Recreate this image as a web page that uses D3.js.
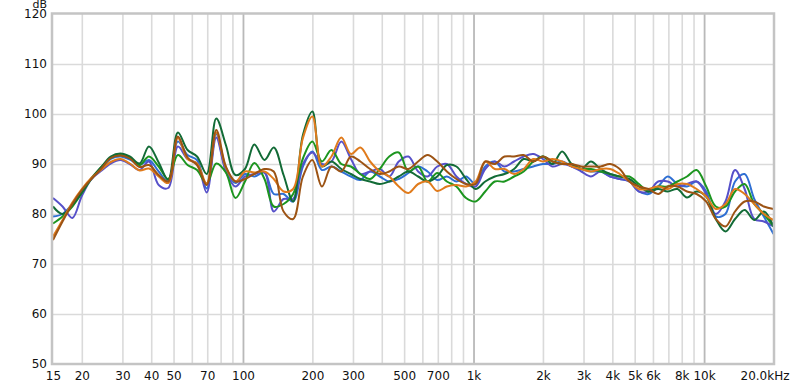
<!DOCTYPE html>
<html>
<head>
<meta charset="utf-8">
<script src="https://cdn.jsdelivr.net/npm/d3@7"></script>
<style>
  body { margin: 0; background: #fff; }
  svg text { font-family: "DejaVu Sans", Verdana, sans-serif; font-size: 12px; fill: #111; }
</style>
</head>
<body>
<svg id="chart" width="800" height="385"></svg>
<script>
// sample frequencies (Hz), shared by every trace
var freqs = [15, 16.5, 18.2, 20, 22, 24.2, 26.7, 29.4, 32.3, 35.6, 39.1, 43.1, 47.4, 52.2, 57.5, 63.2,
  69.6, 76.6, 84.3, 92.8, 102, 112, 124, 136, 150, 165, 182, 200, 220, 242, 267, 294, 323, 356, 392,
  431, 474, 522, 575, 632, 696, 766, 843, 928, 1021, 1124, 1237, 1362, 1499, 1650, 1816, 1999, 2200,
  2422, 2666, 2934, 3230, 3555, 3913, 4307, 4741, 5218, 5744, 6322, 6959, 7659, 8431, 9280, 10214,
  11242, 12375, 13621, 14992, 16502, 18163, 20000];

// levels in dB
var blueTrace = [79.5, 80, 82, 84.5, 87, 89, 91, 91.5, 90.9, 89.8, 90.8, 88.5, 86.5, 94.5, 91.8, 90.8,
  85.1, 96, 88.8, 86.2, 88, 87.5, 88.3, 84, 84, 82.5, 89.5, 92.5, 88.8, 89.5, 88.5, 87.5, 86.8, 88.5,
  87.5, 86.5, 87, 88.2, 89.5, 88.5, 86.8, 87.5, 86.5, 87.5, 86, 89.5, 90.5, 88.5, 88.5, 89, 89.5, 90,
  90, 90.5, 89.5, 89, 88.5, 88.5, 87.5, 87, 86.5, 84.5, 84, 85.5, 87.5, 86, 85.5, 86.5, 84.5, 79.5,
  80, 86.5, 88, 83, 79.5, 76];
var purpleTrace = [83.2, 81.5, 79.2, 83.6, 87, 88.6, 90.1, 90.8, 90, 88.8, 90.5, 85.8, 85.2, 93.5, 91,
  90.1, 84.3, 95.3, 88.5, 85.5, 87.5, 88, 88.3, 80.5, 83, 83, 90, 92.3, 90, 90.5, 94.5, 91, 88, 88.5,
  89, 87.5, 90.5, 91.5, 88.5, 87.5, 89.5, 90, 87.5, 86, 85.5, 89, 90.5, 89.5, 90.5, 91.5, 92, 91, 89.5,
  90, 89.5, 88.5, 87.5, 88.5, 87.5, 87, 86.5, 84.5, 84.5, 86.5, 86.5, 85.5, 86, 86.5, 84, 80, 82.5,
  88.8, 85, 79, 78.5, 77.5];
var darkGreenTrace = [81.5, 80, 81.8, 84.3, 87.2, 89.3, 91.5, 92.1, 91.5, 90.1, 93.5, 90.3, 86.8, 96.3,
  92.8, 91.5, 88, 99.1, 93.8, 87.8, 89, 93.9, 90.8, 93.3, 87.8, 82.5, 95.8, 100.5, 89.5, 90.5, 89, 88,
  87, 86.5, 86, 86.5, 87.5, 88.5, 87.5, 86.5, 87.5, 89.8, 89.5, 87, 85, 86.5, 87.5, 88, 89, 91, 90.5,
  91.5, 90, 92.5, 90, 89, 90.5, 89, 88, 87.5, 87, 85.5, 84.5, 85, 84.5, 85, 83.3, 84.5, 83.5, 79, 76.5,
  79, 80.8, 78.8, 80.5, 77.5];
var greenTrace = [78.1, 79.5, 81.5, 84.2, 87, 89.3, 91.2, 91.8, 91.2, 89.8, 91.5, 89.5, 87, 91.8, 89.8,
  88.8, 86.1, 90.1, 88.3, 83.2, 86.5, 90.2, 87, 81.5, 82, 84, 91.1, 94.5, 90.5, 92.8, 90, 89.5, 88, 87,
  89, 91.5, 92.3, 88.5, 89.5, 86.5, 88.2, 86.5, 85.5, 83.2, 82.5, 84.5, 86.5, 86.5, 87.5, 88.5, 90.5,
  91.5, 90.5, 90, 90, 89, 89, 88.5, 88, 87.5, 87.5, 86, 84.5, 85.5, 85.5, 86.5, 87.5, 88.8, 85.5, 81.5,
  81.5, 84.5, 86, 82, 80, 77.5];
var orangeTrace = [75.5, 78.8, 82.3, 85, 87.2, 88.8, 90.4, 91, 90.1, 88.7, 89.1, 87.5, 86.2, 95.2, 91,
  90.1, 86.1, 96.3, 89.3, 86.5, 88.5, 88.3, 88.5, 87, 84.5, 85, 95.2, 99.5, 89.5, 91.5, 95.3, 92, 93.3,
  90.5, 88.5, 87.5, 85.5, 84.2, 86, 86.5, 84.6, 85.5, 85.8, 85.5, 86.5, 90.5, 89, 89, 88, 89, 91, 90.5,
  91, 90.5, 89.5, 89, 88.5, 89, 89, 88, 86.5, 85, 85, 85.5, 85, 86, 86, 85, 83.5, 81, 82, 85, 84, 82,
  80, 78.8];
var brownTrace = [74.8, 78.5, 82, 84.8, 87, 89, 91.2, 91.7, 91.1, 89.4, 89.8, 87.8, 86.5, 95.5, 91.3,
  89.8, 85.8, 96.8, 89.5, 86.5, 87, 88, 89, 88.5, 80.5, 79, 87.5, 90.8, 85.5, 89.5, 88.5, 91.5, 90.5, 89,
  88, 88.5, 89.5, 89, 90.5, 91.8, 90.5, 88.5, 87, 86, 86, 90.5, 90, 91.5, 91.5, 91.8, 90.5, 91.5, 90.5,
  90, 90, 89.5, 89.5, 89.5, 90, 89, 86.5, 85.5, 85, 84, 85.5, 85.5, 84.5, 84, 82.5, 79, 77.5, 80.5,
  82.5, 82.5, 81.5, 81];

var traces = [blueTrace, purpleTrace, greenTrace, darkGreenTrace, orangeTrace, brownTrace];
var traceColors = ["#2e6fd3", "#5650c9", "#1c951f", "#126b36", "#e07b1c", "#9c5314"];

var gridFreqs = [20, 30, 40, 50, 60, 70, 80, 90, 200, 300, 400, 500, 600, 700, 800, 900,
  2000, 3000, 4000, 5000, 6000, 7000, 8000, 9000];
var decadeFreqs = [100, 1000, 10000];
var freqTicks = [15, 20, 30, 40, 50, 70, 100, 200, 300, 500, 700, 1000, 2000, 3000, 4000, 5000, 6000, 8000, 10000, 20000];
var freqLabels = ["15", "20", "30", "40", "50", "70", "100", "200", "300", "500", "700", "1k", "2k", "3k", "4k", "5k", "6k", "8k", "10k", "20.0kHz"];
var dbTicks = [50, 60, 70, 80, 90, 100, 110, 120];
var dbGrid = [60, 70, 80, 90, 100, 110];

var plotLeft = 52, plotRight = 774, plotTop = 14, plotBottom = 364;

var svg = d3.select("#chart");

var x = d3.scaleLog().domain([15, 20000]).range([53, 773.5]);
var y = d3.scaleLinear().domain([50, 120]).range([plotBottom, plotTop]);

// grid
svg.append("g")
  .attr("class", "grid-x")
  .attr("transform", "translate(0," + plotBottom + ")")
  .call(d3.axisBottom(x).tickValues(gridFreqs).tickSize(-(plotBottom - plotTop)).tickFormat(""))
  .call(function(g) { g.select(".domain").remove(); })
  .selectAll("line").attr("stroke", "#dadada").attr("stroke-width", 1.6);

svg.append("g")
  .attr("class", "grid-decade")
  .attr("transform", "translate(0," + plotBottom + ")")
  .call(d3.axisBottom(x).tickValues(decadeFreqs).tickSize(-(plotBottom - plotTop)).tickFormat(""))
  .call(function(g) { g.select(".domain").remove(); })
  .selectAll("line").attr("stroke", "#b9b9b9").attr("stroke-width", 1.8);

svg.append("g")
  .attr("class", "grid-y")
  .attr("transform", "translate(" + plotLeft + ",0)")
  .call(d3.axisLeft(y).tickValues(dbGrid).tickSize(-(plotRight - plotLeft)).tickFormat(""))
  .call(function(g) { g.select(".domain").remove(); })
  .selectAll("line").attr("stroke", "#dadada").attr("stroke-width", 1.6);

// traces
svg.append("clipPath").attr("id", "plot-clip")
  .append("rect").attr("x", plotLeft).attr("y", plotTop)
  .attr("width", plotRight - plotLeft).attr("height", plotBottom - plotTop);

var line = d3.line()
  .x(function(d, i) { return x(freqs[i]); })
  .y(function(d) { return y(d); })
  .curve(d3.curveCatmullRom.alpha(0.5));

svg.append("g")
  .attr("clip-path", "url(#plot-clip)")
  .selectAll("path")
  .data(traces)
  .enter().append("path")
    .attr("d", line)
    .attr("fill", "none")
    .attr("stroke", function(d, i) { return traceColors[i]; })
    .attr("stroke-width", 2)
    .attr("stroke-linejoin", "round");

// frame
svg.append("rect")
  .attr("x", plotLeft).attr("y", plotTop - 0.5)
  .attr("width", plotRight - plotLeft).attr("height", plotBottom - plotTop + 0.5)
  .attr("fill", "none")
  .attr("stroke", "#c4c4c4")
  .attr("stroke-width", 2.5);

// axis labels
var xAxis = svg.append("g")
  .attr("transform", "translate(0," + plotBottom + ")")
  .call(d3.axisBottom(x).tickValues(freqTicks).tickSize(0).tickPadding(7)
    .tickFormat(function(d, i) { return freqLabels[i]; }));
xAxis.select(".domain").remove();
xAxis.selectAll("text").attr("fill", "#111")
  .filter(function(d) { return d === 20000; }).attr("dx", -9);

var yAxis = svg.append("g")
  .attr("transform", "translate(" + plotLeft + ",0)")
  .call(d3.axisLeft(y).tickValues(dbTicks).tickSize(0).tickPadding(5));
yAxis.select(".domain").remove();
yAxis.selectAll("text").attr("fill", "#111");

svg.append("text")
  .attr("x", 47).attr("y", 8)
  .attr("text-anchor", "end")
  .style("font-size", "11px")
  .text("dB");
</script>
</body>
</html>
